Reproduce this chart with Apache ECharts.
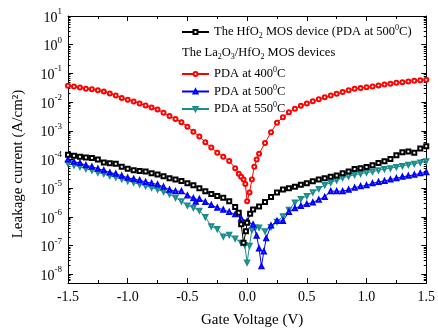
<!DOCTYPE html>
<html>
<head>
<meta charset="utf-8">
<script src="https://cdn.jsdelivr.net/npm/echarts@6/dist/echarts.min.js"></script>
<style>html,body{margin:0;padding:0;background:#fff}#c{width:438px;height:333px}</style>
</head>
<body>
<div id="c"></div>
<script>
// ---- data (Gate Voltage in V, Leakage current in A/cm^2) ----
var vRed = [-1.5,-1.45,-1.4,-1.35,-1.3,-1.25,-1.2,-1.15,-1.1,-1.05,-1.0,-0.95,-0.9,-0.85,-0.8,-0.75,-0.7,-0.65,-0.6,-0.55,-0.5,-0.45,-0.4,-0.35,-0.3,-0.25,-0.2,-0.15,-0.1,-0.07,-0.05,-0.03,-0.015,0.0,0.02,0.04,0.06,0.08,0.1,0.15,0.2,0.25,0.3,0.35,0.4,0.45,0.5,0.55,0.6,0.65,0.7,0.75,0.8,0.85,0.9,0.95,1.0,1.05,1.1,1.15,1.2,1.25,1.3,1.35,1.4,1.45,1.5];
var iRed = [3.7e-2,3.5e-2,3.2e-2,2.95e-2,2.8e-2,2.6e-2,2.35e-2,2.0e-2,1.7e-2,1.4e-2,1.2e-2,1.05e-2,8.9e-3,7.6e-3,6.5e-3,5.5e-3,4.3e-3,3.3e-3,2.6e-3,2.0e-3,1.4e-3,9.3e-4,6.3e-4,4.0e-4,2.6e-4,1.74e-4,1.26e-4,8.9e-5,5.0e-5,3.2e-5,2.5e-5,2.0e-5,1.4e-5,3.5e-6,7.1e-6,2.0e-5,5.6e-5,1.0e-4,1.6e-4,3.8e-4,8.9e-4,1.9e-3,3.0e-3,4.4e-3,5.9e-3,7.4e-3,8.9e-3,1.07e-2,1.26e-2,1.48e-2,1.7e-2,1.95e-2,2.24e-2,2.6e-2,2.9e-2,3.1e-2,3.3e-2,3.5e-2,3.8e-2,4.1e-2,4.4e-2,4.7e-2,4.9e-2,5.2e-2,5.5e-2,5.75e-2,6.0e-2];

var vBlack = [-1.5,-1.45,-1.4,-1.35,-1.3,-1.25,-1.2,-1.15,-1.1,-1.05,-1.0,-0.95,-0.9,-0.85,-0.8,-0.75,-0.7,-0.65,-0.6,-0.55,-0.5,-0.45,-0.4,-0.35,-0.3,-0.25,-0.2,-0.15,-0.1,-0.07,-0.05,-0.03,-0.01,0.0,0.025,0.05,0.1,0.15,0.2,0.25,0.3,0.35,0.4,0.45,0.5,0.55,0.6,0.65,0.7,0.75,0.8,0.85,0.9,0.95,1.0,1.05,1.1,1.15,1.2,1.25,1.3,1.35,1.4,1.45,1.5];
var iBlack = [1.48e-4,1.35e-4,1.26e-4,1.17e-4,1.12e-4,1.0e-4,7.9e-5,7.4e-5,7.1e-5,5.6e-5,4.8e-5,4.2e-5,4.0e-5,3.8e-5,3.3e-5,3.0e-5,2.6e-5,2.24e-5,2.0e-5,1.78e-5,1.5e-5,1.26e-5,1.0e-5,7.9e-6,6.3e-6,5.4e-6,4.7e-6,3.5e-6,2.24e-6,1.4e-6,5.6e-7,1.26e-7,3.2e-7,6.3e-7,1.3e-6,1.8e-6,2.3e-6,3.3e-6,5.0e-6,7.1e-6,9.1e-6,1.0e-5,1.12e-5,1.32e-5,1.5e-5,1.74e-5,2.0e-5,2.24e-5,2.5e-5,2.8e-5,3.3e-5,3.8e-5,4.7e-5,5.0e-5,5.5e-5,6.3e-5,7.6e-5,8.7e-5,1.05e-4,1.41e-4,1.78e-4,1.9e-4,1.74e-4,2.4e-4,2.9e-4];

var vBlue = [-1.5,-1.45,-1.4,-1.35,-1.3,-1.25,-1.2,-1.15,-1.1,-1.05,-1.0,-0.95,-0.9,-0.85,-0.8,-0.75,-0.7,-0.65,-0.6,-0.55,-0.5,-0.45,-0.43,-0.4,-0.35,-0.3,-0.25,-0.2,-0.15,-0.1,-0.05,0.0,0.05,0.08,0.1,0.12,0.14,0.16,0.2,0.25,0.3,0.35,0.4,0.45,0.5,0.55,0.6,0.65,0.7,0.75,0.8,0.85,0.9,0.95,1.0,1.05,1.1,1.15,1.2,1.25,1.3,1.35,1.4,1.45,1.5];
var iBlue = [1.0e-4,8.3e-5,7.6e-5,6.3e-5,5.6e-5,4.8e-5,4.2e-5,3.5e-5,3.2e-5,2.7e-5,2.3e-5,2.1e-5,1.9e-5,1.66e-5,1.5e-5,1.35e-5,1.12e-5,8.9e-6,7.9e-6,7.9e-6,5.6e-6,4.5e-6,3.4e-6,4.2e-6,3.3e-6,2.6e-6,2.1e-6,1.78e-6,1.5e-6,1.23e-6,8.9e-7,7.1e-7,5.5e-7,2.2e-7,7.9e-8,1.9e-8,6.3e-8,1.8e-7,5.0e-7,7.2e-7,7.2e-7,1.5e-6,2.0e-6,2.4e-6,2.8e-6,3.2e-6,4.0e-6,5.0e-6,7.9e-6,7.9e-6,7.9e-6,8.9e-6,1.05e-5,1.17e-5,1.26e-5,1.48e-5,1.66e-5,1.8e-5,2.0e-5,2.24e-5,2.5e-5,2.7e-5,2.95e-5,3.3e-5,3.6e-5];

var vTeal = [-1.5,-1.45,-1.4,-1.35,-1.3,-1.25,-1.2,-1.15,-1.1,-1.05,-1.0,-0.95,-0.9,-0.85,-0.8,-0.75,-0.7,-0.65,-0.6,-0.55,-0.5,-0.45,-0.4,-0.35,-0.3,-0.25,-0.2,-0.15,-0.1,-0.05,-0.02,0.0,0.02,0.04,0.07,0.1,0.15,0.2,0.25,0.3,0.35,0.4,0.45,0.5,0.55,0.6,0.65,0.7,0.75,0.8,0.85,0.9,0.95,1.0,1.05,1.1,1.15,1.2,1.25,1.3,1.35,1.4,1.45,1.5];
var iTeal = [7.2e-5,6.3e-5,5.6e-5,4.8e-5,4.2e-5,3.5e-5,3.2e-5,2.7e-5,2.4e-5,2.1e-5,1.78e-5,1.58e-5,1.38e-5,1.2e-5,1.05e-5,9.1e-6,7.6e-6,6.3e-6,4.7e-6,3.5e-6,2.5e-6,2.1e-6,1.66e-6,1.0e-6,4.7e-7,3.8e-7,2.1e-7,2.4e-7,1.78e-7,1.26e-7,1.05e-7,2.6e-8,1.0e-7,3.5e-7,4.3e-7,4.3e-7,3.2e-7,4.5e-7,6.8e-7,1.05e-6,1.78e-6,3.2e-6,4.2e-6,5.4e-6,7.2e-6,9.5e-6,1.29e-5,1.58e-5,1.9e-5,2.3e-5,2.6e-5,2.95e-5,3.2e-5,3.5e-5,3.8e-5,4.2e-5,4.7e-5,5.0e-5,5.5e-5,6.0e-5,6.6e-5,7.1e-5,7.9e-5,8.7e-5];

var xTickLabels = ['-1.5','-1.0','-0.5','0.0','0.5','1.0','1.5'];
var seriesNames = ['hfo2','p400','p500','p550'];
var legendLabels = {
  hfo2: '{t|The HfO}{sub|2}{t| MOS device (PDA at 500}{sup|0}{t|C)}',
  p400: '{t|PDA at 400}{sup|0}{t|C}',
  p500: '{t|PDA at 500}{sup|0}{t|C}',
  p550: '{t|PDA at 550}{sup|0}{t|C}'
};
var headerText = '{t|The La}{sub|2}{t|O}{sub|3}{t|/HfO}{sub|2}{t| MOS devices}';
var xTitle = 'Gate Voltage (V)';
var yTitle = 'Leakage current (A/cm²)';

function pairs(v, i) { return v.map(function (x, k) { return [x, i[k]]; }); }

var FONT = '"Liberation Serif","Times New Roman",serif';
var richLegend = {
  t: {fontFamily: FONT, fontSize: 12.5, color: '#000', lineHeight: 16, verticalAlign: 'middle'},
  sub: {fontFamily: FONT, fontSize: 8, color: '#000', lineHeight: 8, verticalAlign: 'bottom'},
  sup: {fontFamily: FONT, fontSize: 8, color: '#000', lineHeight: 8, verticalAlign: 'top'}
};

var chart = echarts.init(document.getElementById('c'), null, {renderer: 'canvas'});

var yMin = 5e-9, yMax = 10;
function yLabel(v) {
  var l = Math.log10(v), e = Math.round(l);
  if (Math.abs(l - e) > 0.01) return '';
  return '{b|10}{s|' + e + '}';
}

var common = {
  type: 'line', xAxisIndex: 0, yAxisIndex: 0, symbolSize: 4,
  lineStyle: {width: 1}, animation: false
};

var option = {
  animation: false,
  backgroundColor: '#fff',
  grid: {left: 68, right: 9, top: 16, bottom: 48, show: false},
  xAxis: [{
    type: 'value', min: -1.5, max: 1.5, interval: 0.5, position: 'bottom',
    axisLine: {show: true, onZero: false, lineStyle: {color: '#000', width: 1}},
    axisTick: {show: true, inside: true, length: 5, lineStyle: {color: '#000'}},
    minorTick: {show: true, splitNumber: 2, length: 3, lineStyle: {color: '#000'}},
    splitLine: {show: false},
    axisLabel: {
      color: '#000', fontFamily: FONT, fontSize: 14, margin: 7,
      formatter: function (v) { var idx = Math.round((v + 1.5) / 0.5); return xTickLabels[idx] || ''; }
    },
    name: xTitle, nameLocation: 'middle', nameGap: 30,
    nameTextStyle: {color: '#000', fontFamily: FONT, fontSize: 15, padding: [0, 0, 0, 10]}
  }, {
    type: 'value', min: -1.5, max: 1.5, interval: 0.5, position: 'top',
    axisLine: {show: true, onZero: false, lineStyle: {color: '#000', width: 1}},
    axisTick: {show: true, inside: true, length: 5, lineStyle: {color: '#000'}},
    minorTick: {show: true, splitNumber: 2, length: 3, lineStyle: {color: '#000'}},
    splitLine: {show: false}, axisLabel: {show: false}
  }],
  yAxis: [{
    type: 'log', logBase: 10, min: yMin, max: yMax, splitNumber: 10, position: 'left',
    axisLine: {show: true, onZero: false, lineStyle: {color: '#000', width: 1}},
    axisTick: {show: true, inside: true, length: 5, lineStyle: {color: '#000'}},
    minorTick: {show: true, splitNumber: 9, length: 2.5, lineStyle: {color: '#000'}},
    splitLine: {show: false},
    axisLabel: {
      margin: 6, formatter: yLabel,
      rich: {
        b: {fontFamily: FONT, fontSize: 14, color: '#000', lineHeight: 18, verticalAlign: 'bottom'},
        s: {fontFamily: FONT, fontSize: 9, color: '#000', lineHeight: 9, verticalAlign: 'top'}
      }
    }
  }, {
    type: 'log', logBase: 10, min: yMin, max: yMax, splitNumber: 10, position: 'right',
    axisLine: {show: true, onZero: false, lineStyle: {color: '#000', width: 1}},
    axisTick: {show: true, inside: true, length: 5, lineStyle: {color: '#000'}},
    minorTick: {show: true, splitNumber: 9, length: 2.5, lineStyle: {color: '#000'}},
    splitLine: {show: false}, axisLabel: {show: false}
  }],
  legend: [{
    data: [seriesNames[0]], left: 181, top: 24, orient: 'vertical', padding: 0,
    itemWidth: 27, itemHeight: 5, itemGap: 2,
    formatter: function (n) { return legendLabels[n]; },
    textStyle: {rich: richLegend}
  }, {
    data: seriesNames.slice(1), left: 181, top: 66, orient: 'vertical', padding: 0,
    itemWidth: 27, itemHeight: 5, itemGap: 3,
    formatter: function (n) { return legendLabels[n]; },
    textStyle: {rich: richLegend}
  }],
  graphic: [{
    type: 'text', left: 182, top: 46,
    style: {text: headerText, rich: richLegend}
  }, {
    type: 'text', x: 18, y: 164, rotation: Math.PI / 2,
    style: {text: yTitle, fontFamily: FONT, fontSize: 15, fill: '#000', align: 'center', verticalAlign: 'middle'}
  }],
  series: [
    Object.assign({}, common, {name: 'hfo2', data: pairs(vBlack, iBlack), symbol: 'emptyRect', color: '#000000', z: 5}),
    Object.assign({}, common, {name: 'p400', data: pairs(vRed, iRed), symbol: 'emptyCircle', color: '#ff0000', z: 4}),
    Object.assign({}, common, {name: 'p500', data: pairs(vBlue, iBlue), symbol: 'emptyTriangle', color: '#0000ff', z: 3}),
    Object.assign({}, common, {name: 'p550', data: pairs(vTeal, iTeal), symbol: 'emptyTriangle', symbolRotate: 180, color: '#1a8c8c', z: 2})
  ]
};
chart.setOption(option);
</script>
</body>
</html>
